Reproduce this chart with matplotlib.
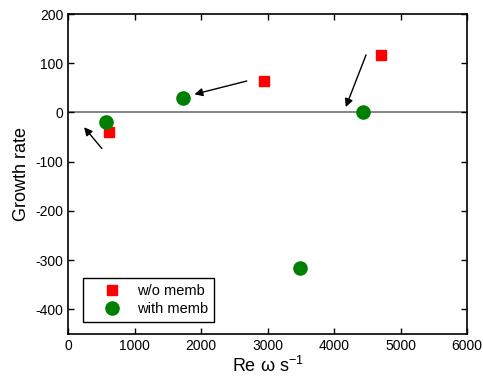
import matplotlib
matplotlib.use("agg")
import matplotlib.pyplot as plt

plt.rcParams['font.family'] = ['Liberation Sans', 'DejaVu Sans']
plt.rcParams['axes.unicode_minus'] = False

# w/o membrane
wo_x = [617, 2950, 4707]
wo_y = [-39, 65, 117]
# with membrane
w_x = [570, 1725, 4436, 3490]
w_y = [-19, 30, 0, -315]

# arrows (tail -> head)
arrow_tails = [(2687, 64), (4481, 117), (507, -73)]
arrow_heads = [(1900, 37), (4176, 11), (241, -30)]

fig = plt.figure(figsize=(4.83, 3.85), dpi=100)
ax = fig.add_axes([0.141, 0.1325, 0.826, 0.831])

ax.axhline(0, color='#707070', lw=1.2, zorder=1)
ax.plot(wo_x, wo_y, 's', color='red', ms=7, mec='red', label='w/o memb', zorder=3)
ax.plot(w_x, w_y, 'o', color='green', ms=9.5, mec='green', label='with memb', zorder=3)

for t, h in zip(arrow_tails, arrow_heads):
    ax.annotate('', xy=h, xytext=t,
                arrowprops=dict(arrowstyle='-|>', color='black', lw=1,
                                mutation_scale=12, shrinkA=0, shrinkB=0))

ax.set_xlim(0, 6000)
ax.set_ylim(-450, 200)
ax.set_xticks(range(0, 6001, 1000))
ax.set_yticks(range(-400, 201, 100))
ax.tick_params(direction='in', top=True, right=True, labelsize=10, length=4, width=1)
for s in ax.spines.values():
    s.set_linewidth(1.2)

ax.set_xlabel(r'Re $\mathregular{\omega}$ s$^{\mathregular{-1}}$', fontsize=13, labelpad=2)
ax.set_ylabel('Growth rate', fontsize=13, labelpad=4)

leg = ax.legend(loc='lower left', fontsize=10.5, numpoints=1, fancybox=False,
                edgecolor='black', framealpha=1, borderaxespad=0,
                bbox_to_anchor=(0.0376, 0.0375), handlelength=3.1,
                handletextpad=0.2, borderpad=0.4, labelspacing=0.3)
leg.get_frame().set_linewidth(1)

fig.savefig('out.png', dpi=100)
